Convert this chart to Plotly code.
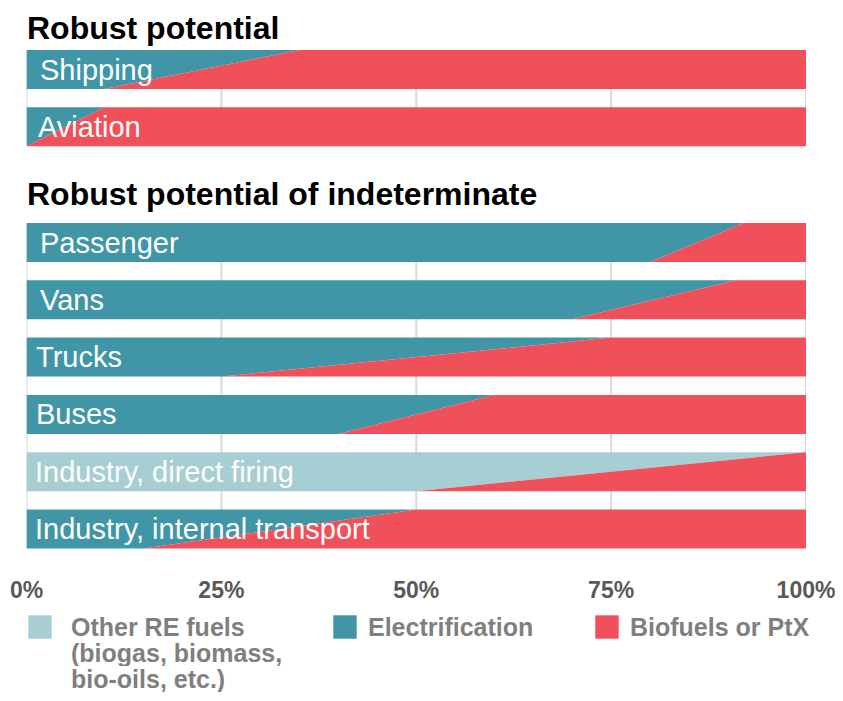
import plotly.graph_objects as go

# Data: share of the band (left part, %) at the top edge and at the bottom edge
CATEGORIES = [
    "Shipping",
    "Aviation",
    "Passenger",
    "Vans",
    "Trucks",
    "Buses",
    "Industry, direct firing",
    "Industry, internal transport",
]
GROUPS = ["Robust potential", "Robust potential of indeterminate"]
CATEGORY_GROUP = [0, 0, 1, 1, 1, 1, 1, 1]
LEFT_SHARE_TOP = [35, 10, 92, 91, 75, 60, 100, 50]
LEFT_SHARE_BOTTOM = [10, 0, 80, 70, 25, 40, 50, 15]
LEFT_KIND = [
    "Electrification",
    "Electrification",
    "Electrification",
    "Electrification",
    "Electrification",
    "Electrification",
    "Other RE fuels",
    "Electrification",
]
RIGHT_KIND = "Biofuels or PtX"

TICK_VALUES = [0, 25, 50, 75, 100]
TICK_LABELS = ["0%", "25%", "50%", "75%", "100%"]

LEGEND_KINDS = ["Other RE fuels", "Electrification", "Biofuels or PtX"]
LEGEND_LINES = [
    ["Other RE fuels", "(biogas, biomass,", "bio-oils, etc.)"],
    ["Electrification"],
    ["Biofuels or PtX"],
]

COLORS = {
    "Other RE fuels": "#A6CED3",
    "Electrification": "#4096A6",
    "Biofuels or PtX": "#F0505A",
}

FONT = "Liberation Sans, Arial, sans-serif"

# page has an 8px body margin; figure sized to fit the 843x701 window
OFF = 8
W, H = 843 - 2 * OFF, 701 - 2 * OFF


def px(x):
    """window pixel x -> paper fraction"""
    return (x - OFF) / W


# layout in window pixel units (y axis runs top -> bottom)
BAND_H = 39
PITCH = 57.3
GROUP_TOP = [50, 223]
TITLE_Y = [28, 194]
LABEL_X = [38, 36, 38, 38, 34, 34, 33, 33]

fig = go.Figure()

band_spans = []
counters = [0, 0]
for g in CATEGORY_GROUP:
    top = GROUP_TOP[g] + counters[g] * PITCH
    counters[g] += 1
    band_spans.append((top, top + BAND_H))

# grid lines (drawn behind the bands)
for g in range(len(GROUPS)):
    rows = [band_spans[i] for i, gg in enumerate(CATEGORY_GROUP) if gg == g]
    y_start, y_end = rows[0][0], rows[-1][1]
    for v in TICK_VALUES:
        fig.add_shape(
            type="line", xref="x", yref="y",
            x0=v, x1=v, y0=y_start, y1=y_end,
            line=dict(color="#D9D9D9", width=2),
            layer="below",
        )

for name, (y0, y1), xt, xb, kind, lx in zip(
    CATEGORIES, band_spans, LEFT_SHARE_TOP, LEFT_SHARE_BOTTOM, LEFT_KIND, LABEL_X
):
    fig.add_trace(
        go.Scatter(
            x=[0, xt, xb, 0, 0],
            y=[y0, y0, y1, y1, y0],
            fill="toself",
            mode="none",
            fillcolor=COLORS[kind],
            name=kind,
            showlegend=False,
            hoveron="fills",
            text=f"{name}: {kind}",
            hoverinfo="text",
        )
    )
    fig.add_trace(
        go.Scatter(
            x=[xt, 100, 100, xb, xt],
            y=[y0, y0, y1, y1, y0],
            fill="toself",
            mode="none",
            fillcolor=COLORS[RIGHT_KIND],
            name=RIGHT_KIND,
            showlegend=False,
            hoveron="fills",
            text=f"{name}: {RIGHT_KIND}",
            hoverinfo="text",
        )
    )
    fig.add_annotation(
        x=px(lx), xref="paper", xanchor="left",
        y=(y0 + y1) / 2, yref="y", yanchor="middle",
        text=name, showarrow=False,
        font=dict(family=FONT, size=29, color="white"),
    )

# group titles
for title, ty in zip(GROUPS, TITLE_Y):
    fig.add_annotation(
        x=px(25), xref="paper", xanchor="left",
        y=ty, yref="y", yanchor="middle",
        text=f"<b>{title}</b>", showarrow=False,
        font=dict(family=FONT, size=32, color="black"),
    )

# custom legend with large square swatches
LEG_SQ_X = [28, 333, 595]
LEG_TXT_X = [70, 367, 629]
LEG_Y = 627
LINE_STEP = 26
for kind, lines, sx, tx in zip(LEGEND_KINDS, LEGEND_LINES, LEG_SQ_X, LEG_TXT_X):
    fig.add_shape(
        type="rect", xref="paper", yref="y",
        x0=px(sx), x1=px(sx + 24), y0=LEG_Y - 12, y1=LEG_Y + 12,
        fillcolor=COLORS[kind], line=dict(color="rgba(255,255,255,0.6)", width=1),
    )
    for k, line in enumerate(lines):
        fig.add_annotation(
            x=px(tx), xref="paper", xanchor="left",
            y=LEG_Y + k * LINE_STEP, yref="y", yanchor="middle",
            height=LINE_STEP, borderpad=0,
            text=f"<b>{line}</b>", showarrow=False,
            font=dict(family=FONT, size=25, color="#7F7F7F"),
        )

fig.update_layout(
    width=W,
    height=H,
    margin=dict(l=0, r=0, t=0, b=0, pad=0, autoexpand=False),
    paper_bgcolor="white",
    plot_bgcolor="white",
    showlegend=False,
    xaxis=dict(
        domain=[px(26.5), px(806)],
        range=[0, 100],
        tickvals=TICK_VALUES,
        ticktext=TICK_LABELS,
        tickfont=dict(family=FONT, size=23, color="#595959", weight="bold"),
        ticklabeloverflow="allow",
        showgrid=False,
        zeroline=False,
        showline=False,
        ticks="",
        anchor="free",
        position=1 - (574 - OFF) / H,
        automargin=False,
        fixedrange=True,
    ),
    yaxis=dict(
        range=[H + OFF, OFF],
        domain=[0, 1],
        visible=False,
        automargin=False,
        fixedrange=True,
    ),
)

fig.write_html("out.html")
